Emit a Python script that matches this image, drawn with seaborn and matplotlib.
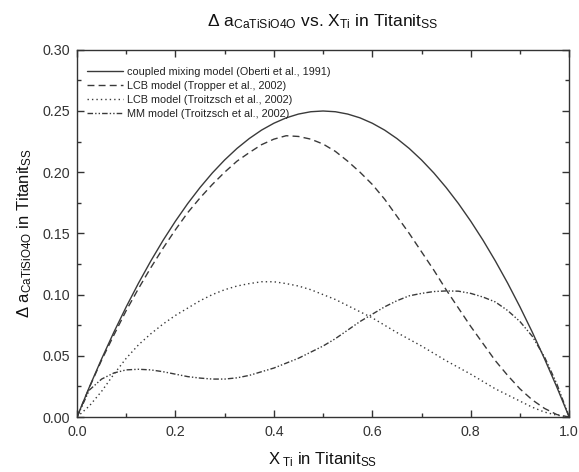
import numpy as np
import pandas as pd
import matplotlib
matplotlib.use("Agg")
import matplotlib.pyplot as plt
import seaborn as sns
from matplotlib.ticker import MultipleLocator, FormatStrFormatter

# ---- data ----
x_ti = [0.0, 0.025, 0.05, 0.075, 0.1, 0.125, 0.15, 0.175, 0.2, 0.225, 0.25,
        0.275, 0.3, 0.325, 0.35, 0.375, 0.4, 0.425, 0.45, 0.475, 0.5,
        0.525, 0.55, 0.575, 0.6, 0.625, 0.65, 0.675, 0.7, 0.725, 0.75,
        0.775, 0.8, 0.825, 0.85, 0.875, 0.9, 0.925, 0.95, 0.975, 1.0]

y_oberti = [0.0, 0.0244, 0.0475, 0.0694, 0.09, 0.1094, 0.1275, 0.1444, 0.16, 0.1744, 0.1875,
            0.1994, 0.21, 0.2194, 0.2275, 0.2344, 0.24, 0.2444, 0.2475, 0.2494, 0.25,
            0.2494, 0.2475, 0.2444, 0.24, 0.2344, 0.2275, 0.2194, 0.21, 0.1994, 0.1875,
            0.1744, 0.16, 0.1444, 0.1275, 0.1094, 0.09, 0.0694, 0.0475, 0.0244, 0.0]

y_tropper = [0.0, 0.024, 0.0465, 0.067, 0.087, 0.105, 0.122, 0.138, 0.153, 0.167, 0.179,
             0.19, 0.2, 0.209, 0.216, 0.2225, 0.227, 0.2298, 0.2292, 0.227, 0.223,
             0.217, 0.209, 0.2, 0.19, 0.178, 0.164, 0.15, 0.135, 0.12, 0.104,
             0.089, 0.074, 0.06, 0.046, 0.034, 0.023, 0.014, 0.007, 0.002, 0.0]

y_lcb = [0.0, 0.009, 0.021, 0.035, 0.048, 0.059, 0.068, 0.076, 0.083, 0.089, 0.095,
         0.1, 0.104, 0.107, 0.109, 0.1105, 0.1105, 0.109, 0.107, 0.104, 0.1,
         0.096, 0.091, 0.086, 0.081, 0.075, 0.069, 0.0635, 0.058, 0.052, 0.046,
         0.0405, 0.035, 0.029, 0.023, 0.018, 0.013, 0.008, 0.004, 0.0015, 0.0]

y_mm = [0.0, 0.022, 0.031, 0.036, 0.0385, 0.039, 0.0385, 0.037, 0.035, 0.033, 0.0318,
        0.031, 0.031, 0.032, 0.034, 0.037, 0.04, 0.044, 0.048, 0.053, 0.058,
        0.064, 0.071, 0.078, 0.084, 0.09, 0.095, 0.099, 0.101, 0.1025, 0.103,
        0.1028, 0.101, 0.098, 0.094, 0.087, 0.078, 0.066, 0.049, 0.027, 0.0]

labels = ["coupled mixing model (Oberti et al., 1991)",
          "LCB model (Tropper et al., 2002)",
          "LCB model (Troitzsch et al., 2002)",
          "MM model (Troitzsch et al., 2002)"]

frames = []
for lab, ys in zip(labels, [y_oberti, y_tropper, y_lcb, y_mm]):
    frames.append(pd.DataFrame({"x": x_ti, "y": ys, "model": lab}))
df = pd.concat(frames, ignore_index=True)

sns.set_theme(style="ticks")
plt.rcParams['font.family'] = ['Liberation Sans', 'DejaVu Sans']
plt.rcParams['mathtext.fontset'] = 'custom'
plt.rcParams['mathtext.rm'] = 'Liberation Sans'
plt.rcParams['mathtext.it'] = 'Liberation Sans:italic'
plt.rcParams['mathtext.bf'] = 'Liberation Sans:bold'

fig = plt.figure(figsize=(5.79, 4.72), dpi=100)
ax = fig.add_axes([0.133, 0.1165, 0.850, 0.778])

line_col = "#3a3a3a"
dashes = {labels[0]: "",
          labels[1]: (5, 3),
          labels[2]: (1, 2.2),
          labels[3]: (4, 1.5, 1, 1.5, 1, 1.5)}
sns.lineplot(data=df, x="x", y="y", hue="model", style="model",
             hue_order=labels, style_order=labels,
             palette=[line_col] * 4, dashes=dashes, linewidth=1.0,
             sort=False, ax=ax)

ax.set_xlim(0, 1.0)
ax.set_ylim(0, 0.30)
ax.xaxis.set_major_locator(MultipleLocator(0.2))
ax.xaxis.set_minor_locator(MultipleLocator(0.1))
ax.yaxis.set_major_locator(MultipleLocator(0.05))
ax.yaxis.set_minor_locator(MultipleLocator(0.025))
ax.xaxis.set_major_formatter(FormatStrFormatter('%.1f'))
ax.yaxis.set_major_formatter(FormatStrFormatter('%.2f'))
ax.tick_params(which='both', direction='in', top=True, right=True,
               labelsize=10.3, colors='#333333', width=1.0)
ax.tick_params(which='major', length=5)
ax.tick_params(axis='x', which='major', pad=6)
ax.tick_params(axis='y', which='major', pad=5)
ax.tick_params(which='minor', length=3)
for s in ax.spines.values():
    s.set_color('#333333')
    s.set_linewidth(1.0)

ax.set_xlabel(r"X$_{\ \mathrm{Ti}}$ in Titanit$_{\mathrm{SS}}$", fontsize=12,
              color='#111111', labelpad=8)
ax.set_ylabel(r"$\Delta$ a$_{\mathrm{CaTiSiO4O}}$ in Titanit$_{\mathrm{SS}}$", fontsize=12,
              color='#111111', labelpad=6)
ax.set_title(r"$\Delta$ a$_{\mathrm{CaTiSiO4O}}$ vs. X$_{\mathrm{Ti}}$ in Titanit$_{\mathrm{SS}}$",
             fontsize=12.5, color='#111111', pad=17)

leg = ax.legend(loc='upper left', frameon=False, fontsize=7.8, handlelength=3.3,
                handletextpad=0.4, labelspacing=0.38, borderaxespad=0.5,
                bbox_to_anchor=(0.0, 0.98))
for t in leg.get_texts():
    t.set_color('#222222')

fig.savefig("out.png", dpi=100)
